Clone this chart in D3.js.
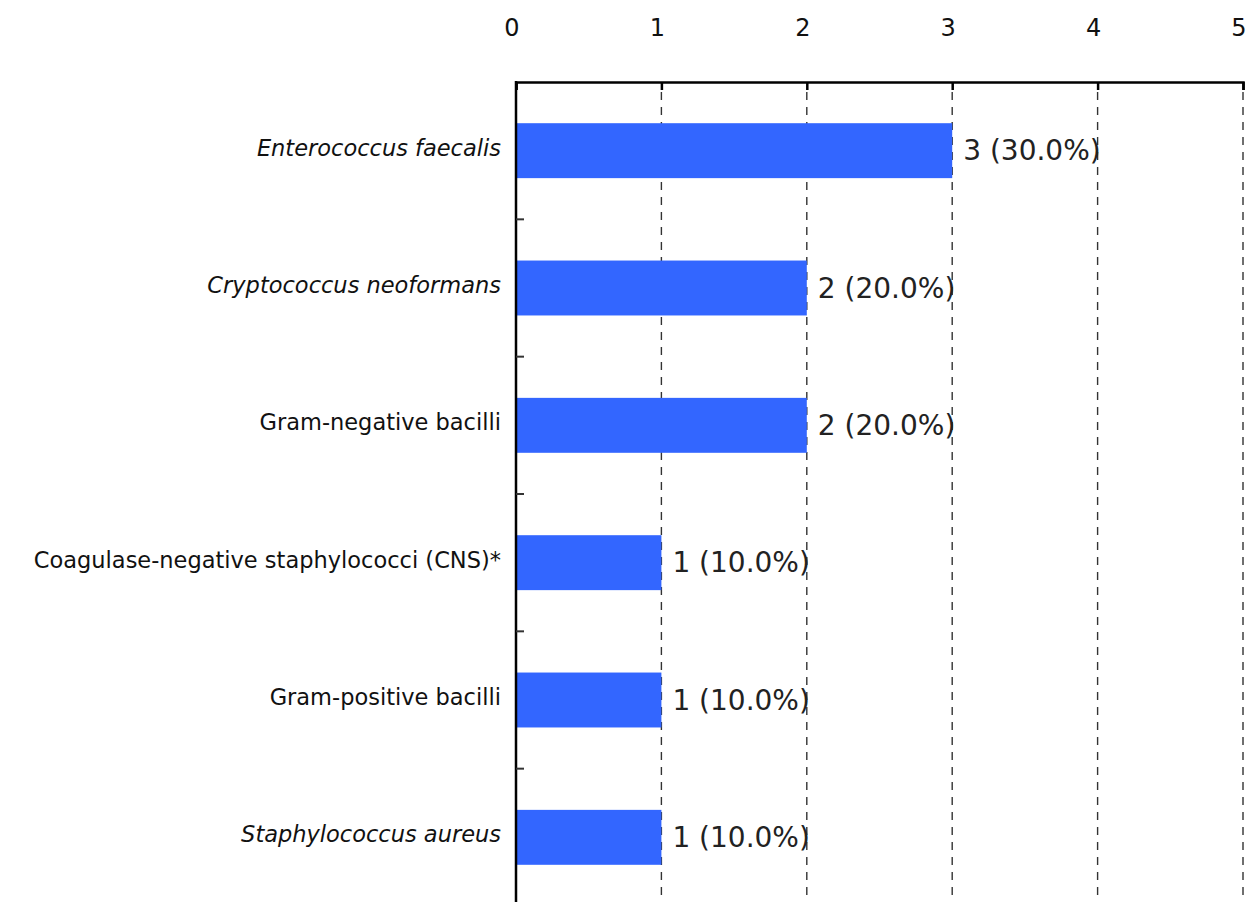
<!DOCTYPE html>
<html>
<head>
<meta charset="utf-8">
<script src="https://cdn.jsdelivr.net/npm/d3@7"></script>
<style>
  body { margin: 0; background: white; }
  svg { display: block; font-family: "DejaVu Sans", Verdana, sans-serif; }
</style>
</head>
<body>
<svg id="chart" width="1251" height="902"></svg>
<script>
// organisms, top to bottom
const categories = [
    "Enterococcus faecalis",
    "Cryptococcus neoformans",
    "Gram-negative bacilli",
    "Coagulase-negative staphylococci (CNS)*",
    "Gram-positive bacilli",
    "Staphylococcus aureus"
];
const counts = [3, 2, 2, 1, 1, 1];
const percents = ["30.0%", "20.0%", "20.0%", "10.0%", "10.0%", "10.0%"];
const italicNames = ["Enterococcus faecalis", "Cryptococcus neoformans", "Staphylococcus aureus"];
const xTicks = [0, 1, 2, 3, 4, 5];

const data = categories.map((c, i) => ({ name: c, count: counts[i], pct: percents[i] }));

const svg = d3.select("#chart");

const x = d3.scaleLinear()
    .domain([0, 5])
    .range([516, 1243]);

const y = d3.scaleBand()
    .domain(categories)
    .range([82, 906])
    .paddingInner(0.6)
    .paddingOuter(0.3);

// dashed grid lines
svg.append("g")
    .selectAll("line")
    .data(xTicks.filter(t => t > 0))
    .enter()
    .append("line")
    .attr("x1", d => x(d))
    .attr("x2", d => x(d))
    .attr("y1", 92)
    .attr("y2", 902)
    .attr("stroke", "#333")
    .attr("stroke-width", 1.4)
    .attr("stroke-dasharray", "8,7");

// bars
svg.append("g")
    .selectAll("rect")
    .data(data)
    .enter()
    .append("rect")
    .attr("x", x(0))
    .attr("y", d => y(d.name))
    .attr("width", d => x(d.count) - x(0))
    .attr("height", y.bandwidth())
    .attr("fill", "#3366ff");

// top axis: line + inward ticks
const xAxis = svg.append("g")
    .attr("transform", "translate(0,82)")
    .call(d3.axisBottom(x).tickValues(xTicks).tickSize(8).tickFormat(""));
xAxis.select(".domain").attr("stroke", "#000").attr("stroke-width", 2.5);
xAxis.selectAll(".tick line").attr("stroke", "#000").attr("stroke-width", 2.5);

// tick labels far above the axis line
svg.append("g")
    .selectAll("text")
    .data(xTicks)
    .enter()
    .append("text")
    .attr("x", d => x(d) - 4)
    .attr("y", 28)
    .attr("dy", "0.35em")
    .attr("text-anchor", "middle")
    .style("font-size", "24px")
    .style("fill", "#111")
    .text(d => d);

// left axis line
svg.append("line")
    .attr("x1", x(0)).attr("x2", x(0))
    .attr("y1", 81).attr("y2", 902)
    .attr("stroke", "#000")
    .attr("stroke-width", 2.5);

// small ticks between categories
const step = y.step();
svg.append("g")
    .selectAll("line")
    .data(categories.slice(1))
    .enter()
    .append("line")
    .attr("x1", x(0))
    .attr("x2", x(0) + 8)
    .attr("y1", d => y(d) - (step - y.bandwidth()) / 2)
    .attr("y2", d => y(d) - (step - y.bandwidth()) / 2)
    .attr("stroke", "#333")
    .attr("stroke-width", 2);

// category labels
svg.append("g")
    .selectAll("text")
    .data(data)
    .enter()
    .append("text")
    .attr("x", 501)
    .attr("y", d => y(d.name) + y.bandwidth() / 2 - 3)
    .attr("dy", "0.35em")
    .attr("text-anchor", "end")
    .style("font-size", "22.5px")
    .style("font-style", d => italicNames.includes(d.name) ? "italic" : "normal")
    .style("fill", "#111")
    .text(d => d.name);

// value labels
svg.append("g")
    .selectAll("text")
    .data(data)
    .enter()
    .append("text")
    .attr("x", d => x(d.count) + 11)
    .attr("y", d => y(d.name) + y.bandwidth() / 2)
    .attr("dy", "0.35em")
    .style("font-size", "28px")
    .style("fill", "#222")
    .text(d => `${d.count} (${d.pct})`);
</script>
</body>
</html>
